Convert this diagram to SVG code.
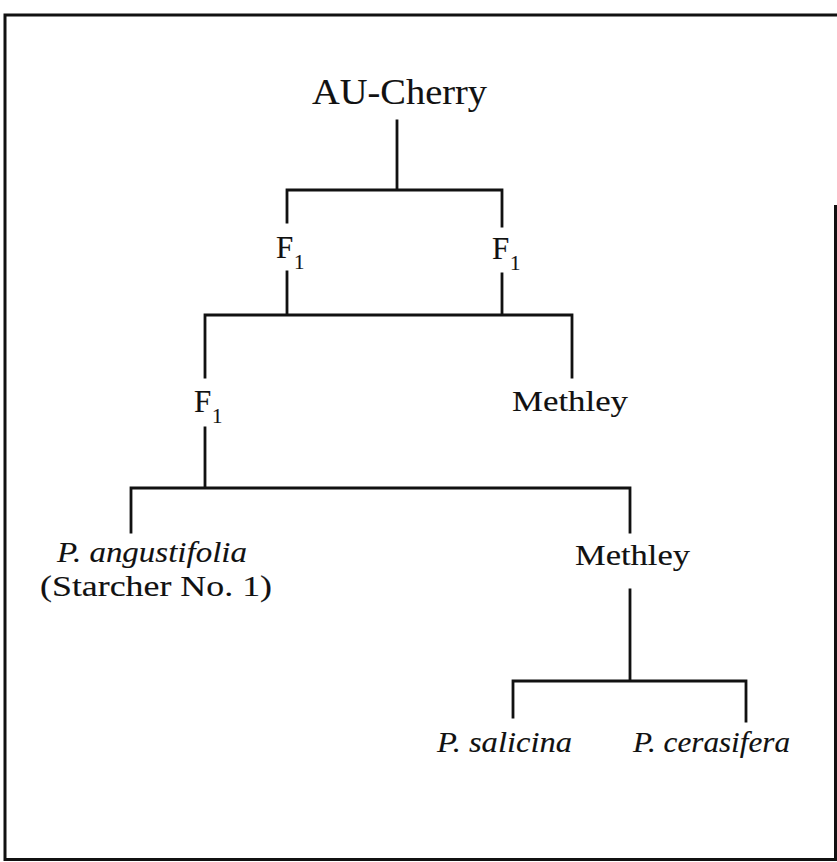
<svg xmlns="http://www.w3.org/2000/svg" width="837" height="862" viewBox="0 0 837 862">
<style>
.ln{stroke:#111;stroke-width:2.8;fill:none;stroke-linecap:square}
.frame{stroke:#111;stroke-width:3;fill:none}
text{font-family:"Liberation Serif","DejaVu Serif",serif;fill:#111;stroke:#111;stroke-width:0.12}
.lab{font-size:30px}
.it{font-style:italic}
.big{font-size:35px}
.f{font-size:31px}
.sub{font-size:21px}
</style>
<rect width="837" height="862" fill="#fff"/>
<path class="frame" d="M835.5 205V859.5H5V15H837"/>
<g id="connectors">
<path class="ln" d="M397 121V190M287 190H502M287 190V222M502 190V226M287 272V315M502 274V315M205 315H572M205 315V377M572 315V377M205 428V488M131 488H630M131 488V532M630 488V532M630 590V681M513 681H746M513 681V717M746 681V721"/>
</g>
<g id="au-cherry"><text class="big" x="312" y="104" textLength="175" lengthAdjust="spacingAndGlyphs">AU-Cherry</text></g>
<g id="f1-left"><text class="f" x="276" y="258">F</text><text class="sub" x="294" y="269">1</text></g>
<g id="f1-right"><text class="f" x="492" y="259">F</text><text class="sub" x="510" y="270">1</text></g>
<g id="f1-mid"><text class="f" x="194" y="412">F</text><text class="sub" x="212" y="423">1</text></g>
<g id="methley-1"><text class="lab" x="512" y="411" textLength="116" lengthAdjust="spacingAndGlyphs">Methley</text></g>
<g id="angustifolia"><text class="lab it" x="57" y="562" textLength="190" lengthAdjust="spacingAndGlyphs">P. angustifolia</text><text class="lab" x="40" y="596" textLength="232" lengthAdjust="spacingAndGlyphs">(Starcher No. 1)</text></g>
<g id="methley-2"><text class="lab" x="575" y="565" textLength="115" lengthAdjust="spacingAndGlyphs">Methley</text></g>
<g id="salicina"><text class="lab it" x="437" y="752" textLength="135" lengthAdjust="spacingAndGlyphs">P. salicina</text></g>
<g id="cerasifera"><text class="lab it" x="633" y="752" textLength="157" lengthAdjust="spacingAndGlyphs">P. cerasifera</text></g>
</svg>
